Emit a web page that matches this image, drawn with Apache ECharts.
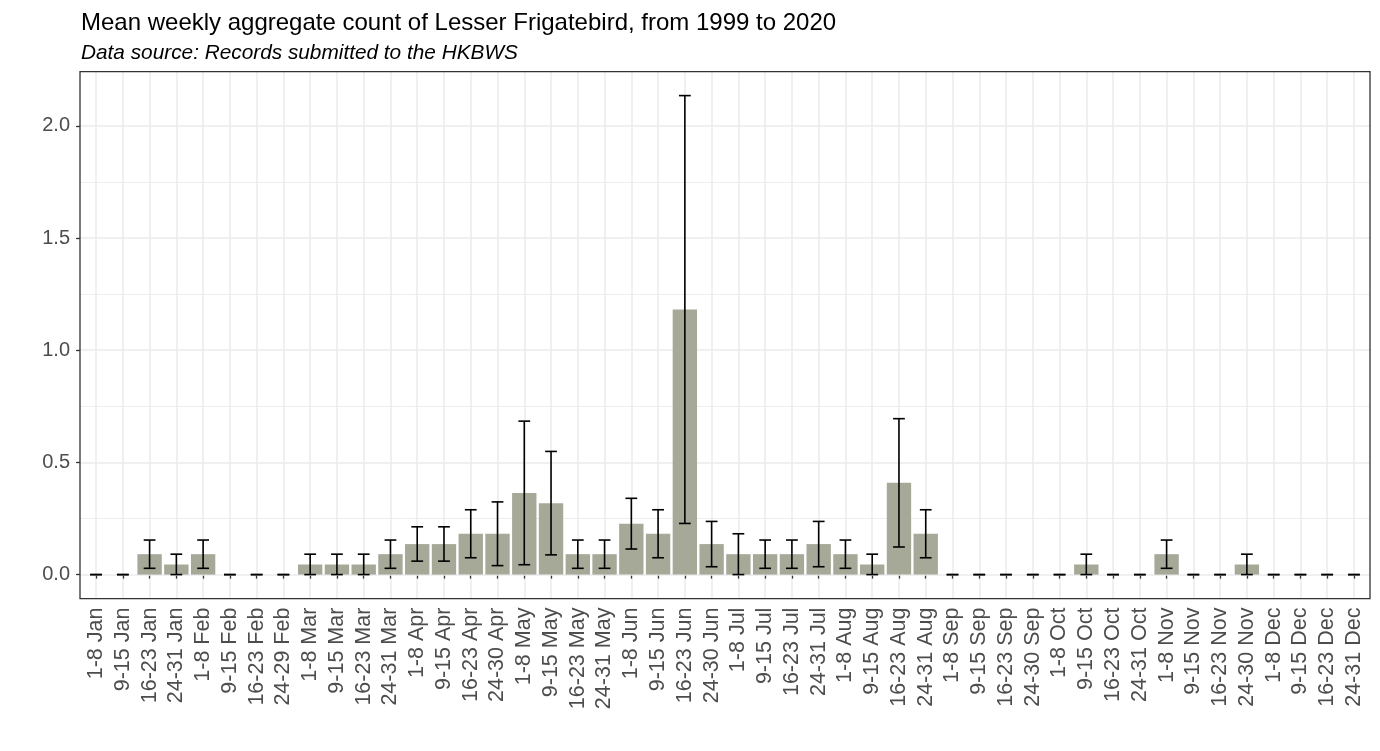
<!DOCTYPE html>
<html><head><meta charset="utf-8">
<script src="https://cdn.jsdelivr.net/npm/echarts@6/dist/echarts.min.js"></script>
<style>html,body{margin:0;padding:0;background:#fff}#c{width:1380px;height:751px}</style>
</head><body><div id="c"></div>
<script>
const titleText = 'Mean weekly aggregate count of Lesser Frigatebird, from 1999 to 2020';
const subtitleText = 'Data source: Records submitted to the HKBWS';

const categories = [
  '1-8 Jan','9-15 Jan','16-23 Jan','24-31 Jan',
  '1-8 Feb','9-15 Feb','16-23 Feb','24-29 Feb',
  '1-8 Mar','9-15 Mar','16-23 Mar','24-31 Mar',
  '1-8 Apr','9-15 Apr','16-23 Apr','24-30 Apr',
  '1-8 May','9-15 May','16-23 May','24-31 May',
  '1-8 Jun','9-15 Jun','16-23 Jun','24-30 Jun',
  '1-8 Jul','9-15 Jul','16-23 Jul','24-31 Jul',
  '1-8 Aug','9-15 Aug','16-23 Aug','24-31 Aug',
  '1-8 Sep','9-15 Sep','16-23 Sep','24-30 Sep',
  '1-8 Oct','9-15 Oct','16-23 Oct','24-31 Oct',
  '1-8 Nov','9-15 Nov','16-23 Nov','24-30 Nov',
  '1-8 Dec','9-15 Dec','16-23 Dec','24-31 Dec'
];

const meanCount = [
  0, 0, 0.091, 0.045,
  0.091, 0, 0, 0,
  0.045, 0.045, 0.045, 0.091,
  0.136, 0.136, 0.182, 0.182,
  0.364, 0.318, 0.091, 0.091,
  0.227, 0.182, 1.182, 0.136,
  0.091, 0.091, 0.091, 0.136,
  0.091, 0.045, 0.409, 0.182,
  0, 0, 0, 0,
  0, 0.045, 0, 0,
  0.091, 0, 0, 0.045,
  0, 0, 0, 0
];

const errLow = [
  0, 0, 0.028, 0,
  0.028, 0, 0, 0,
  0, 0, 0, 0.028,
  0.060, 0.060, 0.075, 0.040,
  0.044, 0.088, 0.028, 0.028,
  0.114, 0.075, 0.228, 0.035,
  0, 0.028, 0.028, 0.035,
  0.028, 0, 0.123, 0.075,
  0, 0, 0, 0,
  0, 0, 0, 0,
  0.028, 0, 0, 0,
  0, 0, 0, 0
];

const errHigh = [
  0, 0, 0.154, 0.091,
  0.154, 0, 0, 0,
  0.091, 0.091, 0.091, 0.154,
  0.213, 0.213, 0.289, 0.324,
  0.684, 0.549, 0.154, 0.154,
  0.340, 0.289, 2.135, 0.237,
  0.182, 0.154, 0.154, 0.237,
  0.154, 0.091, 0.695, 0.289,
  0, 0, 0, 0,
  0, 0.091, 0, 0,
  0.154, 0, 0, 0.091,
  0, 0, 0, 0
];

const yMajorTicks = [0, 0.5, 1.0, 1.5, 2.0];
const yMinorTicks = [0.25, 0.75, 1.25, 1.75];
const yMin = -0.107, yMax = 2.242;

// layout (panel rectangle, ggplot-like discrete expansion of 0.6 units)
const P = {left: 80, right: 1370, top: 71.6, bottom: 598.6};
const n = categories.length;
const unit = (P.right - P.left) / (n - 1 + 1.2);
const mainLeft = P.left + 0.1 * unit;
const mainRight = mainLeft + n * unit;
const vLeft = P.left + 0.6 * unit;
const vRight = P.left + (n - 1 + 0.6) * unit;

const FONT = '"Liberation Sans", Arial, Helvetica, sans-serif';
const gridV = {top: P.top, height: P.bottom - P.top};

const errData = categories.map((c, i) => [i, errLow[i], errHigh[i]]);

function renderErr(params, api) {
  const i = api.value(0);
  const lo = api.coord([i, api.value(1)]);
  const hi = api.coord([i, api.value(2)]);
  const band = api.size([1, 0])[0];
  const hw = band * 0.22;
  const style = {stroke: '#000', lineWidth: 1.6};
  return {type: 'group', children: [
    {type: 'line', shape: {x1: lo[0], y1: lo[1], x2: hi[0], y2: hi[1]}, style},
    {type: 'line', shape: {x1: lo[0] - hw, y1: lo[1], x2: lo[0] + hw, y2: lo[1]}, style},
    {type: 'line', shape: {x1: hi[0] - hw, y1: hi[1], x2: hi[0] + hw, y2: hi[1]}, style}
  ]};
}

const gridLineData = yMajorTicks.map(v => ({yAxis: v, lineStyle: {width: 1.5}}))
  .concat(yMinorTicks.map(v => ({yAxis: v, lineStyle: {width: 0.9}})));

const chart = echarts.init(document.getElementById('c'), null, {renderer: 'canvas'});
chart.setOption({
  animation: false,
  backgroundColor: '#ffffff',
  title: [
    {text: titleText, left: P.left - 4, top: 6,
     textStyle: {fontFamily: FONT, fontSize: 24, fontWeight: 'normal', color: '#000'}},
    {text: subtitleText, left: P.left - 4, top: 38,
     textStyle: {fontFamily: FONT, fontSize: 20.8, fontWeight: 'normal', fontStyle: 'italic', color: '#000'}}
  ],
  grid: [
    {left: P.left, width: P.right - P.left, ...gridV, show: true, borderColor: '#333333', borderWidth: 1.3, backgroundColor: 'transparent', z: 10},
    {left: mainLeft, width: mainRight - mainLeft, ...gridV},
    {left: vLeft, width: vRight - vLeft, ...gridV}
  ],
  xAxis: [
    {type: 'value', gridIndex: 0, min: 0, max: 1, show: false},
    {type: 'category', gridIndex: 1, data: categories, boundaryGap: true,
     axisLine: {show: false},
     axisTick: {show: true, alignWithLabel: true, interval: 0, length: 4, lineStyle: {color: '#333333', width: 1.3}},
     axisLabel: {interval: 0, rotate: 90, margin: 9, fontFamily: FONT, fontSize: 21.5, color: '#4d4d4d'},
     splitLine: {show: false}},
    {type: 'category', gridIndex: 2, data: categories, boundaryGap: false,
     axisLine: {show: false}, axisTick: {show: false, interval: 0}, axisLabel: {show: false, interval: 0},
     splitLine: {show: true, interval: 0, lineStyle: {color: '#ebebeb', width: 1.5}}}
  ],
  yAxis: [
    {type: 'value', gridIndex: 0, min: yMin, max: yMax,
     axisLine: {show: false},
     axisTick: {show: true, length: 4, customValues: yMajorTicks, lineStyle: {color: '#333333', width: 1.3}},
     axisLabel: {customValues: yMajorTicks, margin: 10, fontFamily: FONT, fontSize: 20, color: '#4d4d4d',
                 formatter: v => Number(v).toFixed(1)},
     splitLine: {show: false}, minorSplitLine: {show: false}},
    {type: 'value', gridIndex: 1, min: yMin, max: yMax, show: false, splitLine: {show: false}},
    {type: 'value', gridIndex: 2, min: yMin, max: yMax, show: false, splitLine: {show: false}}
  ],
  series: [
    {type: 'line', xAxisIndex: 0, yAxisIndex: 0, data: [], silent: true,
     markLine: {silent: true, symbol: 'none', z: 1, label: {show: false},
                lineStyle: {color: '#ebebeb', type: 'solid'}, data: gridLineData}},
    {type: 'bar', xAxisIndex: 1, yAxisIndex: 1, data: meanCount, barCategoryGap: '9%',
     itemStyle: {color: '#a6a898'}, z: 2, silent: true},
    {type: 'custom', xAxisIndex: 1, yAxisIndex: 1, data: errData, renderItem: renderErr,
     encode: {x: 0, y: [1, 2]}, z: 3, silent: true}
  ]
});
</script>
</body></html>
